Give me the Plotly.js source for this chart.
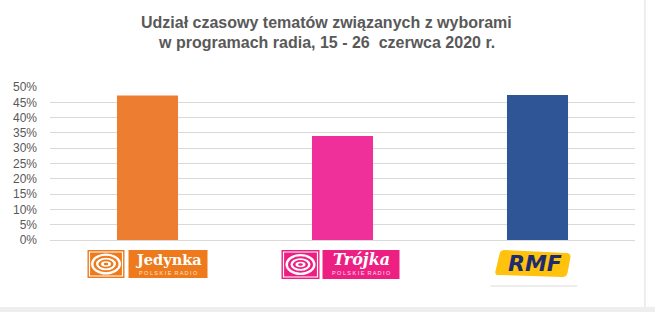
<!DOCTYPE html>
<html>
<head>
<meta charset="utf-8">
<script src="https://cdn.plot.ly/plotly-3.0.1.min.js"></script>
<style>html,body{margin:0;padding:0;background:#fff;}#chart{width:655px;height:312px;}</style>
</head>
<body>
<div id="chart"></div>
<script>
// ---- data ----
const categories = ['Jedynka', 'Trójka', 'RMF'];
const shareValues = [47.2, 34.0, 47.4];
const barColors = ['#ED7D31', '#F0309A', '#2F5597'];
const tickValues = [0, 5, 10, 15, 20, 25, 30, 35, 40, 45, 50];
const tickLabels = tickValues.map(v => v + '%');
const titleLines = ['Udział czasowy tematów związanych z wyborami', 'w programach radia, 15 - 26  czerwca 2020 r.'];

// ---- logo helpers (pixel offsets around category centre, below axis) ----
function px(cat, x0, x1, y0, y1, o) {
  return Object.assign({
    type: 'rect', xref: 'x', yref: 'paper', xsizemode: 'pixel', ysizemode: 'pixel',
    xanchor: cat, yanchor: 0, x0: x0, x1: x1, y0: -y0, y1: -y1, line: {width: 0}, layer: 'above'
  }, o);
}
function pathShape(cat, path, o) {
  return Object.assign({
    type: 'path', xref: 'x', yref: 'paper', xsizemode: 'pixel', ysizemode: 'pixel',
    xanchor: cat, yanchor: 0, path: path, line: {width: 0}, layer: 'above'
  }, o);
}
function icon(cat, x0, x1, y0, y1, col) {
  const s = [];
  s.push(px(cat, x0, x1, y0, y1, {fillcolor: col}));
  s.push(px(cat, x0 + 2, x1 - 2, y0 + 2, y1 - 2, {fillcolor: 'rgba(0,0,0,0)', line: {color: '#fff', width: 1.2}}));
  const cx = (x0 + x1) / 2, cy = (y0 + y1) / 2;
  const rings = [[15, 10.5, '#fff'], [12.5, 8.3, col], [10, 6.3, '#fff'], [7.6, 4.4, col], [5, 2.7, '#fff'], [2.4, 1.2, col]];
  rings.forEach(r => s.push(px(cat, cx - r[0], cx + r[0], cy - r[1], cy + r[1], {type: 'circle', fillcolor: r[2]})));
  return s;
}

const shapes = [];
// Jedynka logo
const orange = '#EE7A1C';
shapes.push(...icon(0, -60, -23, 10, 38, orange));
shapes.push(px(0, -19, 60, 10, 38, {fillcolor: orange}));
// Trójka logo
const pink = '#EE1F82';
shapes.push(...icon(1, -61, -23, 10, 39, pink));
shapes.push(px(1, -20, 57, 10, 39, {fillcolor: pink}));
// RMF logo (yellow skewed rounded rectangle)
shapes.push(pathShape(2, 'M -33,-10 L 29,-13 Q 33,-13 33,-17 L 30,-33 Q 29,-37 25,-37 L -39,-35 Q -43,-35 -42,-31 L -38,-14 Q -37,-10 -33,-10 Z', {fillcolor: '#FFC20E'}));
shapes.push(px(2, -47, 40, 45.5, 46.5, {fillcolor: '#DCDCDC'}));
// outer frame
shapes.push({type: 'rect', xref: 'paper', yref: 'paper', x0: -0.09, x1: 1.04, y0: -0.4379, y1: -0.48, fillcolor: '#EEEEEE', line: {width: 0}, layer: 'below'});
shapes.push({type: 'line', xref: 'paper', yref: 'paper', x0: 1.017, x1: 1.017, y0: -0.4379, y1: 1.6, line: {color: '#DDDDDD', width: 1}, layer: 'below'});

function ann(cat, text, xs, ys, font) {
  return {xref: 'x', yref: 'paper', x: cat, y: 0, xshift: xs, yshift: ys, text: text, showarrow: false,
          xanchor: 'center', yanchor: 'middle', font: font};
}
const titleFont = {family: 'Liberation Sans', size: 16, color: '#595959'};
const annotations = [
  {xref: 'paper', yref: 'paper', x: 0.472, y: 1.4248, text: '<b>' + titleLines[0] + '</b>', showarrow: false, xanchor: 'center', yanchor: 'middle', font: titleFont},
  {xref: 'paper', yref: 'paper', x: 0.472, y: 1.2876, text: '<b>' + titleLines[1] + '</b>', showarrow: false, xanchor: 'center', yanchor: 'middle', font: titleFont},
  ann(0, '<b>Jedynka</b>', 20.5, -19, {family: 'DejaVu Serif', size: 14.5, color: '#fff'}),
  ann(0, 'P O L S K I E  R A D I O', 20.5, -32.5, {family: 'Liberation Sans', size: 5.5, color: '#fde3cc'}),
  ann(1, '<b><i>Trójka</i></b>', 18.5, -19, {family: 'DejaVu Serif', size: 16, color: '#fff'}),
  ann(1, 'P O L S K I E  R A D I O', 18.5, -33, {family: 'Liberation Sans', size: 5.5, color: '#fde0ee'}),
  ann(2, '<b><i>RMF</i></b>', -3, -23.5, {family: 'DejaVu Sans', size: 22, color: '#1E2C6E'})
];

const trace = {
  type: 'bar', x: categories, y: shareValues,
  marker: {color: barColors, line: {width: 0}},
  hoverinfo: 'none'
};

const layout = {
  width: 655, height: 312,
  margin: {l: 50, r: 20, t: 87, b: 72, pad: 0},
  paper_bgcolor: '#fff', plot_bgcolor: '#fff',
  bargap: 0.687,
  showlegend: false,
  xaxis: {
    type: 'category', showticklabels: false, showgrid: false, zeroline: false,
    showline: false, ticks: '', fixedrange: true
  },
  yaxis: {
    range: [0, 50], tickvals: tickValues, ticktext: tickLabels,
    showgrid: true, gridcolor: '#D9D9D9', gridwidth: 1,
    zeroline: true, zerolinecolor: '#D9D9D9', zerolinewidth: 1,
    showline: false, ticks: '', ticklabelstandoff: 12,
    tickfont: {family: 'Liberation Sans', size: 12, color: '#595959'},
    fixedrange: true
  },
  shapes: shapes,
  annotations: annotations
};

Plotly.newPlot('chart', [trace], layout, {displayModeBar: false, staticPlot: true});
</script>
</body>
</html>
